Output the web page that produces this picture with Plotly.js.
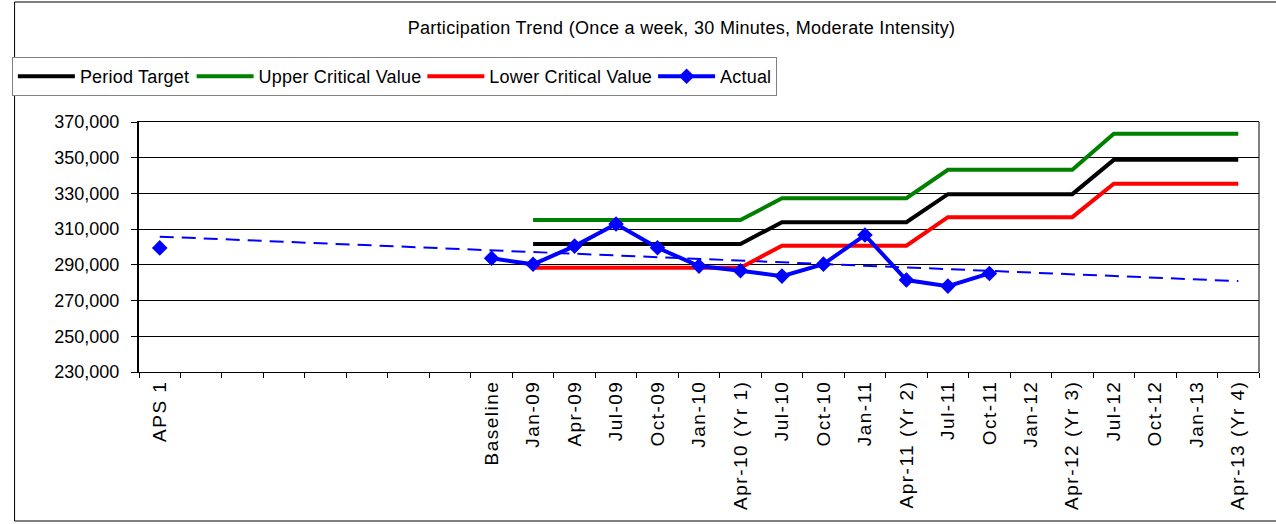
<!DOCTYPE html>
<html>
<head>
<meta charset="utf-8">
<script src="https://cdn.plot.ly/plotly-3.0.1.min.js"></script>
<style>
html,body{margin:0;padding:0;background:#fff;}
#chart{width:1276px;height:524px;}
#chart .xtick text{letter-spacing:1.5px;}
#chart .gtitle{letter-spacing:0.3px;}
#chart .legendtext{letter-spacing:0.2px;}
</style>
</head>
<body>
<div id="chart"></div>
<script>
// Category axis (blank slots between APS 1 and Baseline)
var categories = ["APS 1", " ", "  ", "   ", "    ", "     ", "      ", "       ",
  "Baseline", "Jan-09", "Apr-09", "Jul-09", "Oct-09", "Jan-10", "Apr-10 (Yr 1)",
  "Jul-10", "Oct-10", "Jan-11", "Apr-11 (Yr 2)", "Jul-11", "Oct-11", "Jan-12",
  "Apr-12 (Yr 3)", "Jul-12", "Oct-12", "Jan-13", "Apr-13 (Yr 4)"];

// Target / critical value periods
var targetPeriods = ["Jan-09", "Apr-09", "Jul-09", "Oct-09", "Jan-10", "Apr-10 (Yr 1)",
  "Jul-10", "Oct-10", "Jan-11", "Apr-11 (Yr 2)", "Jul-11", "Oct-11", "Jan-12",
  "Apr-12 (Yr 3)", "Jul-12", "Oct-12", "Jan-13", "Apr-13 (Yr 4)"];
var periodTarget = [301700, 301700, 301700, 301700, 301700, 301700,
  313900, 313900, 313900, 313900, 329600, 329600, 329600, 329600,
  348800, 348800, 348800, 348800];
var upperCritical = [315100, 315100, 315100, 315100, 315100, 315100,
  327300, 327300, 327300, 327300, 343200, 343200, 343200, 343200,
  363400, 363400, 363400, 363400];
var lowerCritical = [288400, 288400, 288400, 288400, 288400, 288400,
  300700, 300700, 300700, 300700, 316700, 316700, 316700, 316700,
  335400, 335400, 335400, 335400];

// Actual participation
var actualPeriods = ["APS 1", " ", "  ", "   ", "    ", "     ", "      ", "       ",
  "Baseline", "Jan-09", "Apr-09", "Jul-09", "Oct-09", "Jan-10", "Apr-10 (Yr 1)",
  "Jul-10", "Oct-10", "Jan-11", "Apr-11 (Yr 2)", "Jul-11", "Oct-11"];
var actual = [299500, null, null, null, null, null, null, null,
  293700, 290300, 300500, 312900, 299600, 289300, 286700,
  283700, 290400, 306700, 281500, 278100, 285200];

// Linear trend (dashed) endpoints
var trendPeriods = ["APS 1", "Apr-13 (Yr 4)"];
var trend = [305800, 280900];

var FONT = "Arial, 'Liberation Sans', sans-serif";

var traces = [
  {x: trendPeriods, y: trend, type: "scatter", mode: "lines", showlegend: false,
   hoverinfo: "skip", line: {color: "#0000FF", width: 2, dash: "14px,8px"}},
  {x: targetPeriods, y: periodTarget, name: "Period Target", type: "scatter", mode: "lines",
   line: {color: "#000000", width: 4}},
  {x: targetPeriods, y: upperCritical, name: "Upper Critical Value", type: "scatter", mode: "lines",
   line: {color: "#008000", width: 4}},
  {x: targetPeriods, y: lowerCritical, name: "Lower Critical Value", type: "scatter", mode: "lines",
   line: {color: "#FF0000", width: 4}},
  {x: actualPeriods, y: actual, name: "Actual", type: "scatter", mode: "lines+markers",
   connectgaps: false,
   line: {color: "#0000FF", width: 4},
   marker: {symbol: "diamond", size: 12, color: "#0000FF"}}
];

var layout = {
  width: 1276, height: 524,
  margin: {l: 134, r: 17, t: 122, b: 152},
  paper_bgcolor: "#ffffff", plot_bgcolor: "#ffffff",
  font: {family: FONT, size: 18, color: "#000000"},
  title: {text: "Participation Trend (Once a week, 30 Minutes, Moderate Intensity)",
    font: {family: FONT, size: 18, color: "#000000"},
    x: 0.4844, xref: "paper", xanchor: "center", y: 0.948, yref: "container", yanchor: "middle"},
  showlegend: true,
  legend: {orientation: "h", x: -0.1135, xanchor: "left", y: 1.26, yanchor: "top",
    bgcolor: "#ffffff", bordercolor: "#808080", borderwidth: 1,
    font: {family: FONT, size: 18, color: "#000000"}, itemwidth: 57,
    traceorder: "normal", tracegroupgap: 0},
  xaxis: {type: "category", categoryorder: "array", categoryarray: categories,
    range: [-0.5, 26.5], tickson: "boundaries", ticks: "outside", ticklen: 5,
    tickcolor: "#000000", tickwidth: 1, tickangle: -90, showgrid: false,
    showline: true, linecolor: "#000000", linewidth: 1, mirror: true,
    tickfont: {family: FONT, size: 19, color: "#000000"}, automargin: false, fixedrange: true},
  yaxis: {range: [230000, 370000], dtick: 20000, tick0: 230000, tickformat: ",d",
    ticks: "outside", ticklen: 6, tickcolor: "#000000", showgrid: true,
    gridcolor: "#000000", gridwidth: 1, zeroline: false, ticklabelstandoff: 8,
    showline: true, linecolor: "#000000", linewidth: 2, mirror: false,
    tickfont: {family: FONT, size: 18, color: "#000000"}, automargin: false, fixedrange: true},
  shapes: [
    {type: "rect", xref: "paper", yref: "paper", x0: -0.1111, x1: 1.05, y0: -0.596, y1: 1.48,
     line: {color: "#000000", width: 1}, fillcolor: "rgba(0,0,0,0)", layer: "below"},
    {type: "line", xref: "paper", yref: "paper", x0: 1, x1: 1, y0: 0, y1: 1,
     line: {color: "#000000", width: 1}}
  ]
};

Plotly.newPlot("chart", traces, layout, {displayModeBar: false, staticPlot: true});
</script>
</body>
</html>
